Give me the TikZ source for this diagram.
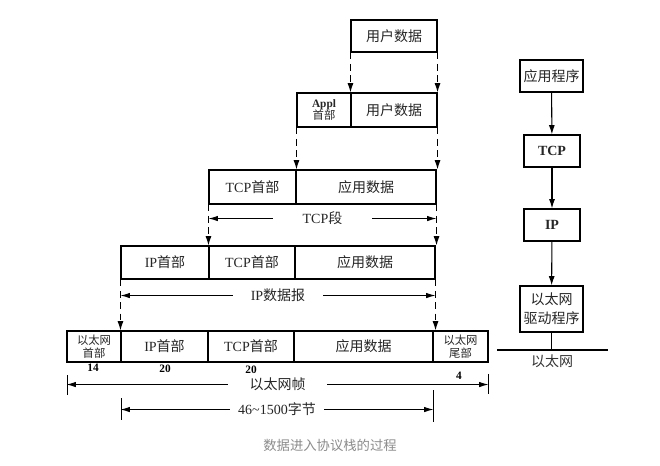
\documentclass[tikz,border=0pt]{standalone}
\usepackage{fontspec}
\setmainfont{Liberation Serif}
\newfontfamily\cjk{Noto Sans CJK SC}
\usetikzlibrary{arrows.meta}
\newcommand\zh[1]{{\cjk #1}}
% \cellbox{style}{x1}{y1}{x2}{y2}{name}{text}
\newcommand\cellbox[7]{\node[#1, minimum width={(#4-#2)*0.75pt}, minimum height={(#5-#3)*0.75pt}] (#6) at ({(#2+#4)/2},{(#3+#5)/2}) {#7};}
\tikzset{
  cell/.style={draw, line width=0.8pt, inner sep=0pt, align=center, text=black!85,
    font=\fontsize{10.5}{12}\selectfont},
  smallcell/.style={cell, font=\fontsize{8.5}{9.5}\selectfont},
  dashconn/.style={line width=0.8pt, dash pattern=on 5pt off 3.5pt, -{Latex[length=7pt,width=4.5pt]}},
  spanarrow/.style={line width=0.7pt, {Latex[length=7pt,width=4pt]}-{Latex[length=7pt,width=4pt]}},
  spanlabel/.style={fill=white, text=black!85, font=\fontsize{10.5}{12}\selectfont, inner ysep=1pt},
  tick/.style={line width=0.7pt},
  num/.style={font=\bfseries\fontsize{8.5}{9}\selectfont, inner sep=0pt},
  stack/.style={draw, line width=0.9pt, inner sep=0pt, align=center, text=black!85,
    font=\fontsize{10.5}{14}\selectfont},
  stackarrow/.style={line width=0.8pt, -{Latex[length=7pt,width=4.5pt]}}
}
\begin{document}
\begin{tikzpicture}[x=0.75pt, y=-0.75pt]
\useasboundingbox (0,0) rectangle (660,466);
\fill[white] (0,0) rectangle (660,466);

% row 1
\cellbox{cell}{351}{20}{437}{52}{u1}{\zh{用户数据}}
% row 2
\cellbox{smallcell}{297}{93}{351}{127}{a2h}{\textbf{Appl}\\\zh{首部}}
\cellbox{cell}{351}{93}{437}{127}{a2d}{\zh{用户数据}}
% row 3
\cellbox{cell}{209}{170}{296}{204}{t3h}{TCP\zh{首部}}
\cellbox{cell}{296}{170}{436}{204}{t3d}{\zh{应用数据}}
% row 4
\cellbox{cell}{121}{246}{209}{279}{i1}{IP\zh{首部}}
\cellbox{cell}{209}{246}{295}{279}{i2}{TCP\zh{首部}}
\cellbox{cell}{295}{246}{435}{279}{i3}{\zh{应用数据}}
% row 5
\cellbox{smallcell}{67}{331}{121}{362}{e1}{\zh{以太网}\\\zh{首部}}
\cellbox{cell}{121}{331}{208}{362}{e2}{IP\zh{首部}}
\cellbox{cell}{208}{331}{294}{362}{e3}{TCP\zh{首部}}
\cellbox{cell}{294}{331}{433}{362}{e4}{\zh{应用数据}}
\cellbox{smallcell}{433}{331}{488}{362}{e5}{\zh{以太网}\\\zh{尾部}}

% dashed connectors
\draw[dashconn] (u1.south west) -- (u1.south west |- a2d.north);
\draw[dashconn] (u1.south east) -- (u1.south east |- a2d.north);
\draw[dashconn] (a2h.south west) -- (a2h.south west |- t3h.north);
\draw[dashconn] (a2d.south east) -- (a2d.south east |- t3d.north);
\draw[dashconn] (t3h.south west) -- (t3h.south west |- i1.north);
\draw[dashconn] (t3d.south east) -- (t3d.south east |- i3.north);
\draw[dashconn] (i1.south west) -- (i1.south west |- e2.north);
\draw[dashconn] (i3.south east) -- (i3.south east |- e4.north);

% span arrows
\draw[spanarrow] ([yshift=-10.5pt]t3h.south west) -- node[spanlabel, inner xsep=22pt] {TCP\zh{段}} ([yshift=-10.5pt]t3d.south east);
\draw[spanarrow] ([yshift=-12pt]i1.south west) -- node[spanlabel, inner xsep=13pt] {IP\zh{数据报}} ([yshift=-12pt]i3.south east);
\draw[spanarrow] ([yshift=-16.5pt]e1.south west) -- node[spanlabel, inner xsep=16pt] {\zh{以太网帧}} ([yshift=-16.5pt]e5.south east);
\draw[spanarrow] ([yshift=-35.25pt]e2.south west) -- node[spanlabel, inner xsep=6pt] {46\textasciitilde1500\zh{字节}} ([yshift=-35.25pt]e4.south east);

% end ticks
\coordinate (k1a) at (67,375); \coordinate (k1b) at (67,395);
\coordinate (k2a) at (488,374); \coordinate (k2b) at (488,394);
\coordinate (k3a) at (121,398); \coordinate (k3b) at (121,420);
\coordinate (k4a) at (433,390); \coordinate (k4b) at (433,422);
\draw[tick] (k1a) -- (k1b);
\draw[tick] (k2a) -- (k2b);
\draw[tick] (k3a) -- (k3b);
\draw[tick] (k4a) -- (k4b);

% sizes
\node[num] (n14) at (93,368) {14};
\node[num] (n20a) at (165,369) {20};
\node[num] (n20b) at (251,370) {20};
\node[num] (n4) at (459,376) {4};

% protocol stack
\cellbox{stack}{520}{60}{583}{92}{app}{\zh{应用程序}}
\cellbox{stack}{524}{135}{580}{167}{tcp}{\textbf{TCP}}
\cellbox{stack}{524}{209}{580}{241}{ip}{\textbf{IP}}
\cellbox{stack}{520}{286}{583}{332}{drv}{\zh{以太网}\\\zh{驱动程序}}
\draw[stackarrow] (app) -- (tcp);
\draw[stackarrow] (tcp) -- (ip);
\draw[stackarrow] (ip) -- (drv);
\coordinate (ethL) at (497,350);
\coordinate (ethR) at (608,350);
\coordinate (ethM) at (drv.south |- ethL);
\draw[line width=0.8pt] (drv.south) -- (ethM);
\draw[line width=2pt] (ethL) -- (ethR);
\node[text=black!80, font=\fontsize{10.5}{12}\selectfont] (ethlbl) at (552,361) {\zh{以太网}};

% caption
\node[text=black!45, font=\fontsize{10}{12}\selectfont] (cap) at (330,445) {\zh{数据进入协议栈的过程}};
\end{tikzpicture}
\end{document}
